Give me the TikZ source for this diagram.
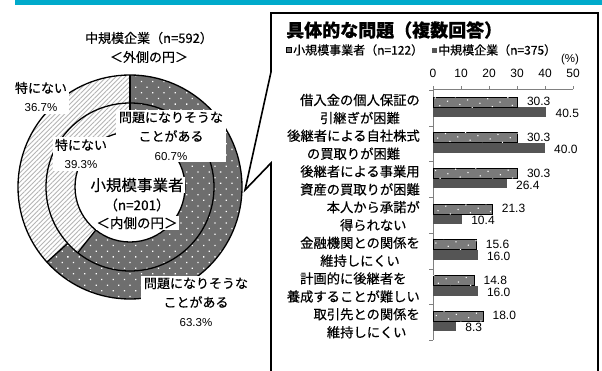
\documentclass[tikz,border=0pt]{standalone}
\usepackage{fontspec}
\setmainfont{Liberation Sans}
\newfontfamily\jp{Noto Sans CJK JP}[FakeBold=0.4]
\usetikzlibrary{patterns.meta}
\definecolor{cyanband}{HTML}{00AACB}
\definecolor{dotgray}{HTML}{6E6E6E}
\definecolor{barup}{HTML}{7A7A7A}
\definecolor{bardn}{HTML}{555555}
\definecolor{hatchgray}{HTML}{B4B4B4}
\newcommand\pctfont{\normalfont\fontsize{11.5}{19}\selectfont}
\begin{document}
\begin{tikzpicture}[x=1pt,y=-1pt,
  dotfill/.style={preaction={fill=dotgray}, pattern={Dots[radius=0.9pt,distance=8pt,angle=45]}, pattern color=white},
  hatchfill/.style={preaction={fill=white}, pattern={Lines[angle=45,distance=3.3pt,line width=0.9pt]}, pattern color=hatchgray},
  ring/.style={draw=black, line width=1.3pt},
  dlbl/.style={fill=white, inner sep=2pt, align=center, font=\jp\fontsize{13}{19}\selectfont},
  clbl/.style={fill=white, inner sep=1pt, font=\jp\fontsize{13.5}{16}\selectfont},
  catlbl/.style={anchor=east, align=center, inner sep=0pt, font=\jp\fontsize{13.3}{18}\selectfont},
  vlbl/.style={anchor=west, inner sep=0pt, font=\fontsize{12}{14}\selectfont},
  axlbl/.style={inner sep=0pt, font=\fontsize{12}{14}\selectfont},
  upbar/.style={fill=barup, draw=black, line width=1pt, postaction={pattern={Dots[radius=0.8pt,distance=9pt,angle=30]}, pattern color=white}},
  dnbar/.style={fill=bardn},
  axline/.style={draw=gray, line width=0.5pt}]
\useasboundingbox (0,0) rectangle (602,370);
\fill[white] (0,0) rectangle (602,370);
% top band
\fill[cyanband] (15,0) rectangle (602,5);
% ---------- donut ----------
\coordinate (c) at (130,187);
\path[dotfill] (c) circle[radius=112];
\fill[white] (c) circle[radius=55];
% outer ring hatched (36.7%)
\path[hatchfill] ([shift={(-90:112)}]c) arc[start angle=-90,end angle=-222.1,radius=112]
  -- ([shift={(-222.1:84)}]c) arc[start angle=-222.1,end angle=-90,radius=84] -- cycle;
% inner ring hatched (39.3%)
\path[hatchfill] ([shift={(-90:84)}]c) arc[start angle=-90,end angle=-231.5,radius=84]
  -- ([shift={(-231.5:55)}]c) arc[start angle=-231.5,end angle=-90,radius=55] -- cycle;
\draw[ring] (c) circle[radius=112];
\draw[ring] (c) circle[radius=84];
\draw[ring] (c) circle[radius=55];
\draw[ring] ([shift={(-90:84)}]c) -- ([shift={(-90:112)}]c);
\draw[ring] ([shift={(-222.1:84)}]c) -- ([shift={(-222.1:112)}]c);
\draw[ring] ([shift={(-231.5:55)}]c) -- ([shift={(-231.5:84)}]c);
\draw[ring] ([shift={(-90:55)}]c) -- ([shift={(-90:84)}]c);
% donut labels
\node[dlbl, fill=none] (outname) at (149,38) {中規模企業（n=592）};
\node[dlbl, fill=none] (outsub) at (149,57) {＜外側の円＞};
\node[dlbl] (outno) at (41,97) {特にない\\{\pctfont 36.7\%}};
\node[dlbl] (inno) at (81,154) {特にない\\{\pctfont 39.3\%}};
\node[dlbl, minimum width=110pt] (inyes) at (171,136) {問題になりそうな\\ことがある\\{\pctfont 60.7\%}};
\node[dlbl, minimum width=110pt] (outyes) at (196,302) {問題になりそうな\\ことがある\\{\pctfont 63.3\%}};
\node[clbl, font=\jp\fontsize{15.5}{18}\selectfont] (cname) at (137,185) {小規模事業者};
\node[clbl] (cn) at (137,205) {（n=201）};
\node[clbl] (csub) at (137,223) {＜内側の円＞};
% ---------- callout ----------
\draw[line width=1.6pt, fill=white, line join=miter]
  (271,13) -- (598,13) -- (598,378) -- (271,378) -- (271,163) -- (245,190) -- (271,72) -- cycle;
\node[anchor=west, inner sep=0pt, font=\jp\bfseries\fontsize{18}{20}\selectfont] (title) at (286,30) {具体的な問題（複数回答）};
% legend
\draw[fill=barup, line width=0.9pt] (286.5,47.5) rectangle (291.5,52.5);
\node[anchor=west, inner sep=0pt, font=\jp\fontsize{12}{14}\selectfont] (leg1) at (293,50) {小規模事業者（n=122）};
\fill[bardn] (432,47.5) rectangle (437,52.5);
\node[anchor=west, inner sep=0pt, font=\jp\fontsize{12}{14}\selectfont] (leg2) at (438,50) {中規模企業（n=375）};
\node[axlbl, font=\fontsize{11.5}{13}\selectfont] (pct) at (570,60) {(\%)};
% axes
\foreach \v in {0,10,...,50} {
  \node[axlbl] at ({433+2.8*\v},73) {\v};
  \draw[axline] ({433+2.8*\v},89) -- ({433+2.8*\v},86);
}
\draw[axline] (433,89) -- (573,89);
\draw[axline] (433,89) -- (433,340);
\foreach \k in {0,...,7} {
  \draw[axline] (429,{90.3+35.7*\k}) -- (433,{90.3+35.7*\k});
}
% bars
\foreach \k/\s/\m/\sl/\ml/\la/\lb in {
  0/30.3/40.5/30.3/40.5/借入金の個人保証の/引継ぎが困難,
  1/30.3/40.0/30.3/40.0/後継者による自社株式/の買取りが困難,
  2/30.3/26.4/30.3/26.4/後継者による事業用/資産の買取りが困難,
  3/21.3/10.4/21.3/10.4/本人から承諾が/得られない,
  4/15.6/16.0/15.6/16.0/金融機関との関係を/維持しにくい,
  5/14.8/16.0/14.8/16.0/計画的に後継者を/養成することが難しい,
  6/18.0/8.3/18.0/8.3/取引先との関係を/維持しにくい} {
  \pgfmathsetmacro\yu{97+35.7*\k}
  \fill[dnbar] (433,{\yu+10}) rectangle ({433+2.8*\m},{\yu+20});
  \path[upbar] (433,\yu) rectangle ({433+2.8*\s},{\yu+10});
  \node[vlbl] at ({433+2.8*\s+9},{\yu+4.5}) {\sl};
  \node[vlbl] at ({433+2.8*\m+9},{\yu+16.5}) {\ml};
  \node[catlbl] at (420,{\yu+12}) {\la\\\lb};
}
\end{tikzpicture}
\end{document}
